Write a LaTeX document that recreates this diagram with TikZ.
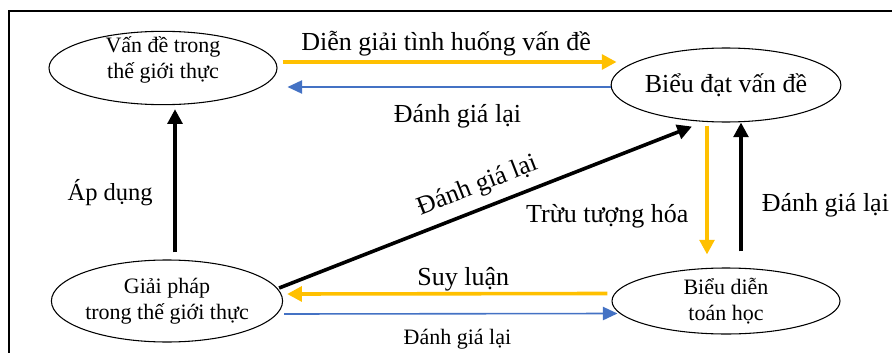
\documentclass[tikz,border=0pt]{standalone}
\usepackage{fontspec}
\setmainfont{Liberation Serif}
\usetikzlibrary{arrows.meta,shapes.geometric}
\definecolor{amber}{HTML}{FFC000}
\definecolor{steel}{HTML}{4472C4}

\begin{document}
\begin{tikzpicture}[x=0.75pt,y=-0.75pt]
\tikzset{stage/.style = {shape=ellipse,draw,line width=0.8pt,minimum width=171pt,inner sep=0pt,align=center,font=\fontsize{16.5}{19.5}\selectfont}}
\tikzset{forward/.style = {draw=amber,line width=2.7pt,-{Triangle[length=11pt,width=11pt]}}}
\tikzset{feedback/.style = {draw=steel,line width=1.2pt,-{Triangle[length=11pt,width=10pt]}}}
\tikzset{heavy/.style = {draw=black,line width=2.7pt,-{Triangle[length=11pt,width=11pt]}}}
\tikzset{bigtext/.style = {font=\fontsize{19.5}{22}\selectfont}}
\tikzset{midtext/.style = {font=\fontsize{18.4}{21}\selectfont}}
\tikzset{smalltext/.style = {font=\fontsize{16.5}{19}\selectfont}}
\useasboundingbox (0,0) rectangle (892,353);
% frame
\draw[line width=2.2pt] (9,353) -- (9,11) -- (892,11);
% vertices
\node[stage,minimum height=55pt] (real) at (163,68) {};
\node[align=center,font=\fontsize{16.5}{19.5}\selectfont] (realtext) at (163,60) {Vấn đề trong\\thế giới thực};
\node[stage,minimum height=55.5pt,font=\fontsize{19.5}{22}\selectfont] (formul) at (726,85) {Biểu đạt vấn đề};
\node[stage,minimum height=61.5pt] (sol) at (167,301) {Giải pháp\\trong thế giới thực};
\node[stage,minimum height=49.5pt] (math) at (726,301) {Biểu diễn\\toán học};
% edges
\draw[forward] ([shift={(5,-6)}]real.east) --
node[pos=0.49,above,bigtext] {Diễn giải tình huống vấn đề} ([shift={(6,-23)}]formul.west);
\draw[feedback] ([shift={(0,2)}]formul.west) --
node[pos=0.474,below=9pt,bigtext] {Đánh giá lại} ([shift={(10,19)}]real.east);
\draw[heavy] ([shift={(8,-7)}]sol.north) --
node[pos=0.42,left=12pt,midtext] {Áp dụng} ([shift={(12,4)}]real.south);
\draw[heavy] ([shift={(-4,-13)}]sol.east) --
node[sloped,above=5.5pt,inner sep=1pt,bigtext] {Đánh giá lại} ([shift={(-34,4)}]formul.south);
\draw[forward] ([shift={(-19,3)}]formul.south) --
node[pos=0.7,left=11.5pt,inner sep=1pt,bigtext] {Trừu tượng hóa} ([shift={(-19,-13)}]math.north);
\draw[heavy] ([shift={(15,-16)}]math.north) --
node[pos=0.36,right=11pt,bigtext] {Đánh giá lại} ([shift={(15,0)}]formul.south);
\draw[forward] ([shift={(-4,-7.5)}]math.west) --
node[pos=0.45,above=-3pt,bigtext] {Suy luận} ([shift={(4,-7)}]sol.east);
\draw[feedback] ([shift={(1,13)}]sol.east) --
node[pos=0.52,below=8pt,smalltext] {Đánh giá lại} ([shift={(6,12.5)}]math.west);
\end{tikzpicture}
\end{document}
